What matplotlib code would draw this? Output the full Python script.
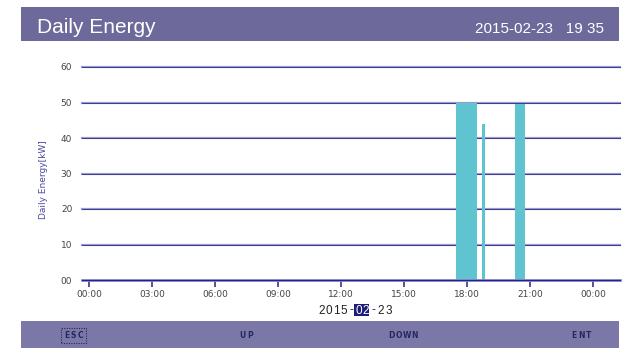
import matplotlib
matplotlib.use("Agg")
import matplotlib.pyplot as plt
from matplotlib.patches import Rectangle

# energy bars: start hour, end hour, value
bar_start = [17.45, 18.69, 20.26]
bar_end = [18.45, 18.83, 20.78]
bar_value = [50, 44, 49.6]

y_ticks = [0, 10, 20, 30, 40, 50, 60]
y_labels = ["00", "10", "20", "30", "40", "50", "60"]
x_ticks = [0, 3, 6, 9, 12, 15, 18, 21, 24]
x_labels = ["00:00", "03:00", "06:00", "09:00", "12:00", "15:00", "18:00", "21:00", "00:00"]

W, H = 622, 348
fig = plt.figure(figsize=(W / 100, H / 100), dpi=100)
fig.patch.set_facecolor("white")


def px(x, y):
    # pixel coords (top-left origin) -> figure fraction
    return x / W, 1 - y / H


def spaced(xc, y, s, pitch, **kw):
    # draw letter-spaced text centred on xc
    x0 = xc - pitch * (len(s) - 1) / 2
    for i, ch in enumerate(s):
        fx, fy = px(x0 + i * pitch, y)
        fig.text(fx, fy, ch, ha="center", va="center", **kw)


# header bar
hdr = Rectangle(px(21, 41), (619 - 21) / W, 34 / H, transform=fig.transFigure,
                facecolor="#6D6A9B", edgecolor="none")
fig.patches.append(hdr)
fig.text(*px(37, 33), "Daily Energy", color="white", fontsize=15,
         family="Liberation Sans", ha="left", va="baseline")
fig.text(*px(604, 33), "2015-02-23   19 35", color="white", fontsize=11,
         family="Liberation Sans", ha="right", va="baseline")

# footer bar
ftr = Rectangle(px(21, 348), (619 - 21) / W, 27 / H, transform=fig.transFigure,
                facecolor="#7B78A8", edgecolor="none")
fig.patches.append(ftr)
navy = "#262660"
spaced(73.5, 335.5, "ESC", 7, fontsize=5.5, fontweight="bold", color=navy)
esc_box = Rectangle(px(61, 343), 25 / W, 15 / H, transform=fig.transFigure,
                    facecolor="none", edgecolor=navy, lw=0.8, ls=(0, (1, 1.2)))
fig.patches.append(esc_box)
spaced(246, 335.5, "UP", 7.5, fontsize=5.5, fontweight="bold", color=navy)
spaced(403, 335.5, "DOWN", 8, fontsize=5.5, fontweight="bold", color=navy)
spaced(581.5, 335.5, "ENT", 7.5, fontsize=5.5, fontweight="bold", color=navy)

# chart area
l, t, r, b = 82, 67, 620, 280
ax = fig.add_axes([l / W, 1 - b / H, (r - l) / W, (b - t) / H])
ax.set_xlim(-0.33, 25.28)
ax.set_ylim(0, 60)

for s, e, v in zip(bar_start, bar_end, bar_value):
    ax.bar(s, v, width=e - s, align="edge", color="#5FC3D0", zorder=3)

for yv in y_ticks[1:]:
    ax.axhline(yv, color="#9C9CCC", lw=1.6, zorder=1, clip_on=False)
    ax.axhline(yv, color="#3C3C98", lw=0.7, zorder=2, clip_on=False)
ax.axhline(0, color="#9C9CCC", lw=2.0, zorder=4, clip_on=False)
ax.axhline(0, color="#22228A", lw=1.0, zorder=5, clip_on=False)

for sp in ax.spines.values():
    sp.set_visible(False)
ax.set_yticks(y_ticks)
ax.set_yticklabels(y_labels)
ax.set_xticks(x_ticks)
ax.set_xticklabels(x_labels)
ax.tick_params(axis="y", length=0, pad=7, labelsize=6.5, labelcolor="#444444")
ax.tick_params(axis="x", length=5, width=1.1, color="#22228A", direction="out",
               pad=2, labelsize=6.5, labelcolor="#444444")
ax.set_facecolor("white")

fig.text(*px(44, 180), "Daily Energy[kW]", rotation=90, ha="center", va="center",
         fontsize=6.5, color="#4A4AA0")

# date line with highlighted month
date = "2015-02-23"
pitch = 7.4
x0 = 318 + pitch / 2
hl = Rectangle(px(354, 316), 15 / W, 12 / H, transform=fig.transFigure,
               facecolor="#1C1C7A", edgecolor="none")
fig.patches.append(hl)
for i, ch in enumerate(date):
    c = "white" if i in (5, 6) else "#222222"
    fx, fy = px(x0 + i * pitch, 310.5)
    fig.text(fx, fy, ch, ha="center", va="center", fontsize=8.5,
             family="Liberation Sans", color=c)

fig.savefig("out.png", dpi=100)
